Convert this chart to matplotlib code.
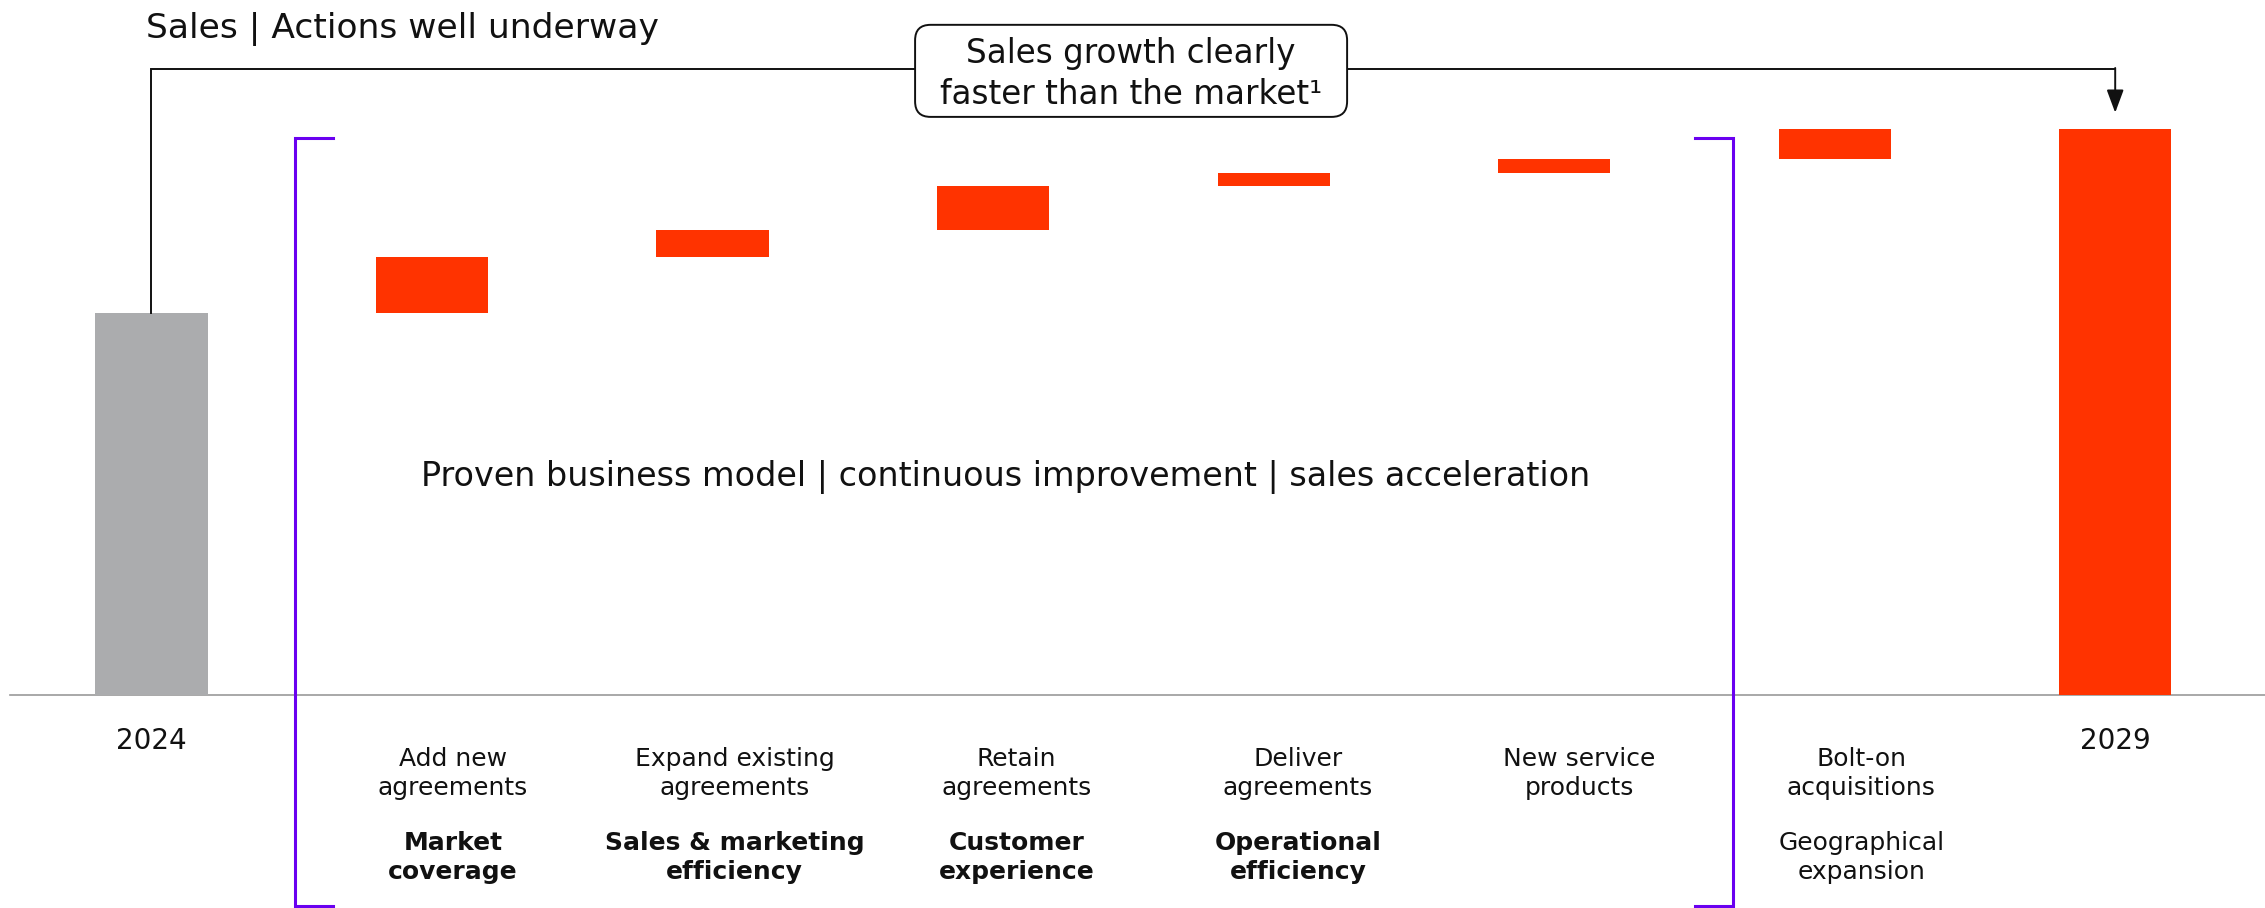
import numpy as np
import matplotlib.pyplot as plt
from matplotlib.patches import FancyBboxPatch

plt.rcParams['font.family'] = ['DejaVu Sans']

# data (index: 2024 sales = 100)
start_label = '2024'
end_label = '2029'
start_value = 100
end_value = 148
steps = ['Add new\nagreements', 'Expand existing\nagreements', 'Retain\nagreements',
         'Deliver\nagreements', 'New service\nproducts', 'Bolt-on\nacquisitions']
step_values = [14.7, 7.1, 11.5, 3.4, 3.7, 7.6]
drivers = ['Market\ncoverage', 'Sales & marketing\nefficiency', 'Customer\nexperience',
           'Operational\nefficiency', '', 'Geographical\nexpansion']
driver_bold = [True, True, True, True, False, False]

title = 'Sales | Actions well underway'
callout = 'Sales growth clearly\nfaster than the market\u00b9'
theme = 'Proven business model | continuous improvement | sales acceleration'

GREY = '#ABACAE'
RED = '#FF3300'
PURPLE = '#6A00F0'
INK = '#111111'

fig = plt.figure(figsize=(22.65, 9.08), dpi=100)
ax = fig.add_axes([0, 0, 1, 1])
ax.set_xlim(-0.54, 7.534)
ax.set_ylim(-55.8, 181.9)
ax.axis('off')

x = np.arange(len(steps) + 2)
w = 0.40
bottoms = start_value + np.concatenate([[0], np.cumsum(step_values)[:-1]])

ax.axhline(0, xmin=0.0044, color='#9a9a9a', lw=1.2, zorder=0)
ax.bar(x[0], start_value, w, color=GREY, zorder=2)
ax.bar(x[1:-1], step_values, w, bottom=bottoms, color=RED, zorder=2)
ax.bar(x[-1], end_value, w, color=RED, zorder=2)

# connector from 2024 to 2029
line_y = 163.9
ax.plot([x[0], x[0], x[-1]], [start_value, line_y, line_y], color=INK, lw=1.4,
        solid_joinstyle='miter', zorder=3)
ax.annotate('', xy=(x[-1], 152.4), xytext=(x[-1], line_y + 0.2),
            arrowprops=dict(arrowstyle='-|>,head_length=0.7,head_width=0.26',
                            color=INK, lw=1.4, shrinkA=0, shrinkB=0, mutation_scale=20),
            zorder=3)
box = FancyBboxPatch((2.722, 151.3), 4.262 - 2.722, 175.4 - 151.3,
                     boxstyle='round,pad=0,rounding_size=0.055', mutation_aspect=73.4,
                     fc='white', ec=INK, lw=1.4, zorder=5)
ax.add_patch(box)
ax.text(3.492, 162.6, callout, ha='center', va='center', fontsize=23.5, linespacing=1.3,
        color=INK, zorder=6)

# purple bracket
top, bot = 145.8, -55.2
ax.plot([0.647, 0.512, 0.512, 0.647], [top, top, bot, bot], color=PURPLE, lw=2.2,
        solid_joinstyle='miter', clip_on=False, zorder=4)
ax.plot([5.502, 5.638, 5.638, 5.502], [top, top, bot, bot], color=PURPLE, lw=2.2,
        solid_joinstyle='miter', clip_on=False, zorder=4)

ax.text(3.046, 57.1, theme, ha='center', va='center', fontsize=24, color=INK)

fig.text(0.0645, 0.958, title, fontsize=24.8, va='baseline', color=INK)

# category labels
ax.text(x[0], -12.0, start_label, ha='center', va='center', fontsize=20, color=INK)
ax.text(x[-1], -12.0, end_label, ha='center', va='center', fontsize=20, color=INK)
for i, (s, d, b) in enumerate(zip(steps, drivers, driver_bold)):
    xi = x[i + 1] + 0.075 + 0.004 * i
    ax.text(xi, -20.6, s, ha='center', va='center', fontsize=18, linespacing=1.25, color=INK)
    ax.text(xi, -42.5, d, ha='center', va='center', fontsize=18, linespacing=1.25, color=INK,
            fontweight='bold' if b else 'normal')

fig.savefig('out.png', dpi=100, facecolor='white')
